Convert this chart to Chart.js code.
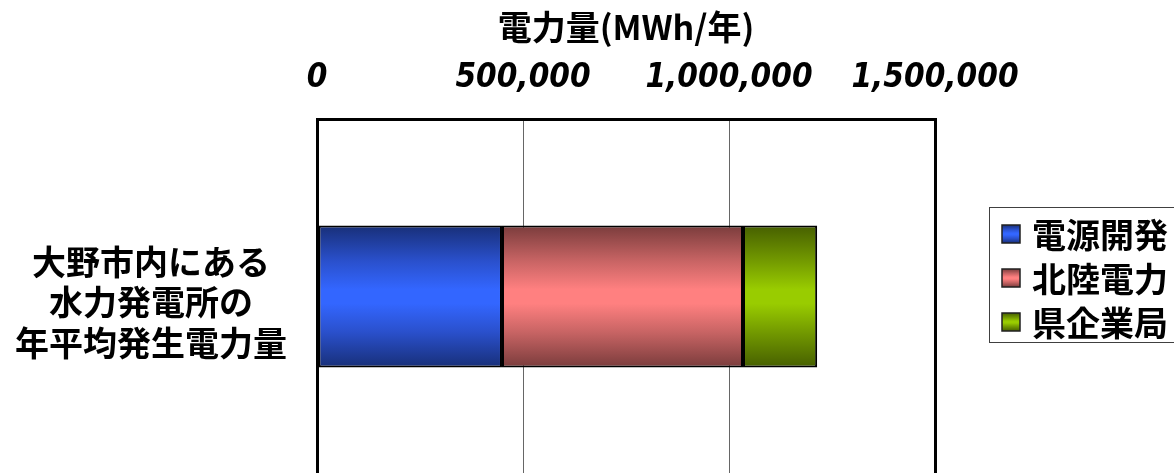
<!DOCTYPE html>
<html lang="ja">
<head>
<meta charset="utf-8">
<title>年平均発生電力量</title>
<script src="https://cdn.jsdelivr.net/npm/chart.js@4.4.1/dist/chart.umd.min.js"></script>
<style>
html, body { margin: 0; padding: 0; background: #fff; overflow: hidden; }
canvas { display: block; }
</style>
</head>
<body>
<canvas id="wykres" width="1174" height="480"></canvas>
<script>
// dane
const kategorie = [["大野市内にある", "水力発電所の", "年平均発生電力量"]];
const nazwySerii = ["電源開発", "北陸電力", "県企業局"];
const dengenKaihatsu = [449000];
const hokurikuDenryoku = [585000];
const kenKigyokyoku = [180000];
const osXWartosci = [0, 500000, 1000000, 1500000];

// kolory gradientu: [krawedz, srodek, swiatlo]
const kolory = [
    ["#182f78", "#2a50cc", "#3366ff"],
    ["#7a3c3c", "#c86464", "#ff8080"],
    ["#465f00", "#739a00", "#99cc00"]
];

const JP = '"Noto Sans CJK JP", "Noto Sans", sans-serif';
Chart.defaults.font.family = JP;
Chart.defaults.color = "#000";

function gradientPaska(c, y0, y1, k) {
    const g = c.createLinearGradient(0, y0, 0, y1);
    g.addColorStop(0, k[0]);
    g.addColorStop(0.25, k[1]);
    g.addColorStop(0.45, k[2]);
    g.addColorStop(0.55, k[2]);
    g.addColorStop(0.75, k[1]);
    g.addColorStop(1, k[0]);
    return g;
}

function tloPaska(k) {
    return function (ctx) {
        const chart = ctx.chart;
        const area = chart.chartArea;
        if (!area) return k[2];
        const y = chart.scales.y.getPixelForValue(ctx.dataIndex);
        const pol = (area.bottom - area.top) * 0.4 / 2;
        return gradientPaska(chart.ctx, y - pol, y + pol, k);
    };
}

// legenda w ramce po prawej
const legendaRamka = {
    id: "legendaRamka",
    afterDraw(chart) {
        const c = chart.ctx;
        c.save();
        c.strokeStyle = "#404040";
        c.lineWidth = 1;
        c.strokeRect(989.5, 207.5, 300, 135);
        chart.data.datasets.forEach((ds, i) => {
            const y = 234 + i * 44;
            c.fillStyle = gradientPaska(c, y - 9, y + 9, kolory[i]);
            c.fillRect(1002, y - 9, 18, 18);
            c.strokeStyle = "#202020";
            c.lineWidth = 1.5;
            c.strokeRect(1002, y - 9, 18, 18);
            c.fillStyle = "#000";
            c.font = "bold 34px " + JP;
            c.textBaseline = "middle";
            c.fillText(ds.label, 1032, y + 1);
        });
        c.restore();
    }
};

const wykresObiekt = document.getElementById("wykres").getContext("2d");
const wykres = new Chart(wykresObiekt, {
    type: "bar",
    data: {
        labels: kategorie,
        datasets: [
            { label: nazwySerii[0], data: dengenKaihatsu, backgroundColor: tloPaska(kolory[0]) },
            { label: nazwySerii[1], data: hokurikuDenryoku, backgroundColor: tloPaska(kolory[1]) },
            { label: nazwySerii[2], data: kenKigyokyoku, backgroundColor: tloPaska(kolory[2]) }
        ]
    },
    options: {
        indexAxis: "y",
        responsive: false,
        animation: false,
        layout: { padding: { left: 0, top: 0, right: 239, bottom: 6 } },
        datasets: {
            bar: {
                categoryPercentage: 0.4,
                barPercentage: 1,
                borderWidth: 2,
                borderColor: "#000",
                borderSkipped: false
            }
        },
        scales: {
            x: {
                position: "top",
                stacked: true,
                min: 0,
                max: 1500000,
                afterBuildTicks: s => { s.ticks = osXWartosci.map(v => ({ value: v })); },
                afterFit: s => { s.height = 119; s.paddingLeft = 0; s.paddingRight = 0; },
                border: { color: "#000", width: 3 },
                grid: {
                    drawTicks: false,
                    color: c => (c.tick && (c.tick.value === 0 || c.tick.value === 1500000)) ? "#000" : "#666",
                    lineWidth: c => (c.tick && (c.tick.value === 0 || c.tick.value === 1500000)) ? 3 : 1
                },
                ticks: {
                    padding: 21,
                    maxRotation: 0,
                    autoSkip: false,
                    font: { family: '"DejaVu Sans Condensed", "Liberation Sans Narrow", sans-serif', size: 33, style: "italic", weight: "bold" },
                    callback: v => v.toLocaleString("en-US")
                },
                title: {
                    display: true,
                    text: "電力量(MWh/年)",
                    padding: { top: 7, bottom: 0 },
                    font: { size: 34, weight: "bold" }
                }
            },
            y: {
                stacked: true,
                afterFit: s => { s.width = 317; s.paddingTop = 0; s.paddingBottom = 0; },
                border: { color: "#000", width: 3 },
                grid: { display: false },
                ticks: {
                    padding: 22,
                    labelOffset: 6,
                    crossAlign: "center",
                    font: { size: 34, weight: "bold", lineHeight: 1.2 }
                }
            }
        },
        plugins: {
            legend: { display: false },
            tooltip: { enabled: false }
        }
    },
    plugins: [legendaRamka]
});
</script>
</body>
</html>
